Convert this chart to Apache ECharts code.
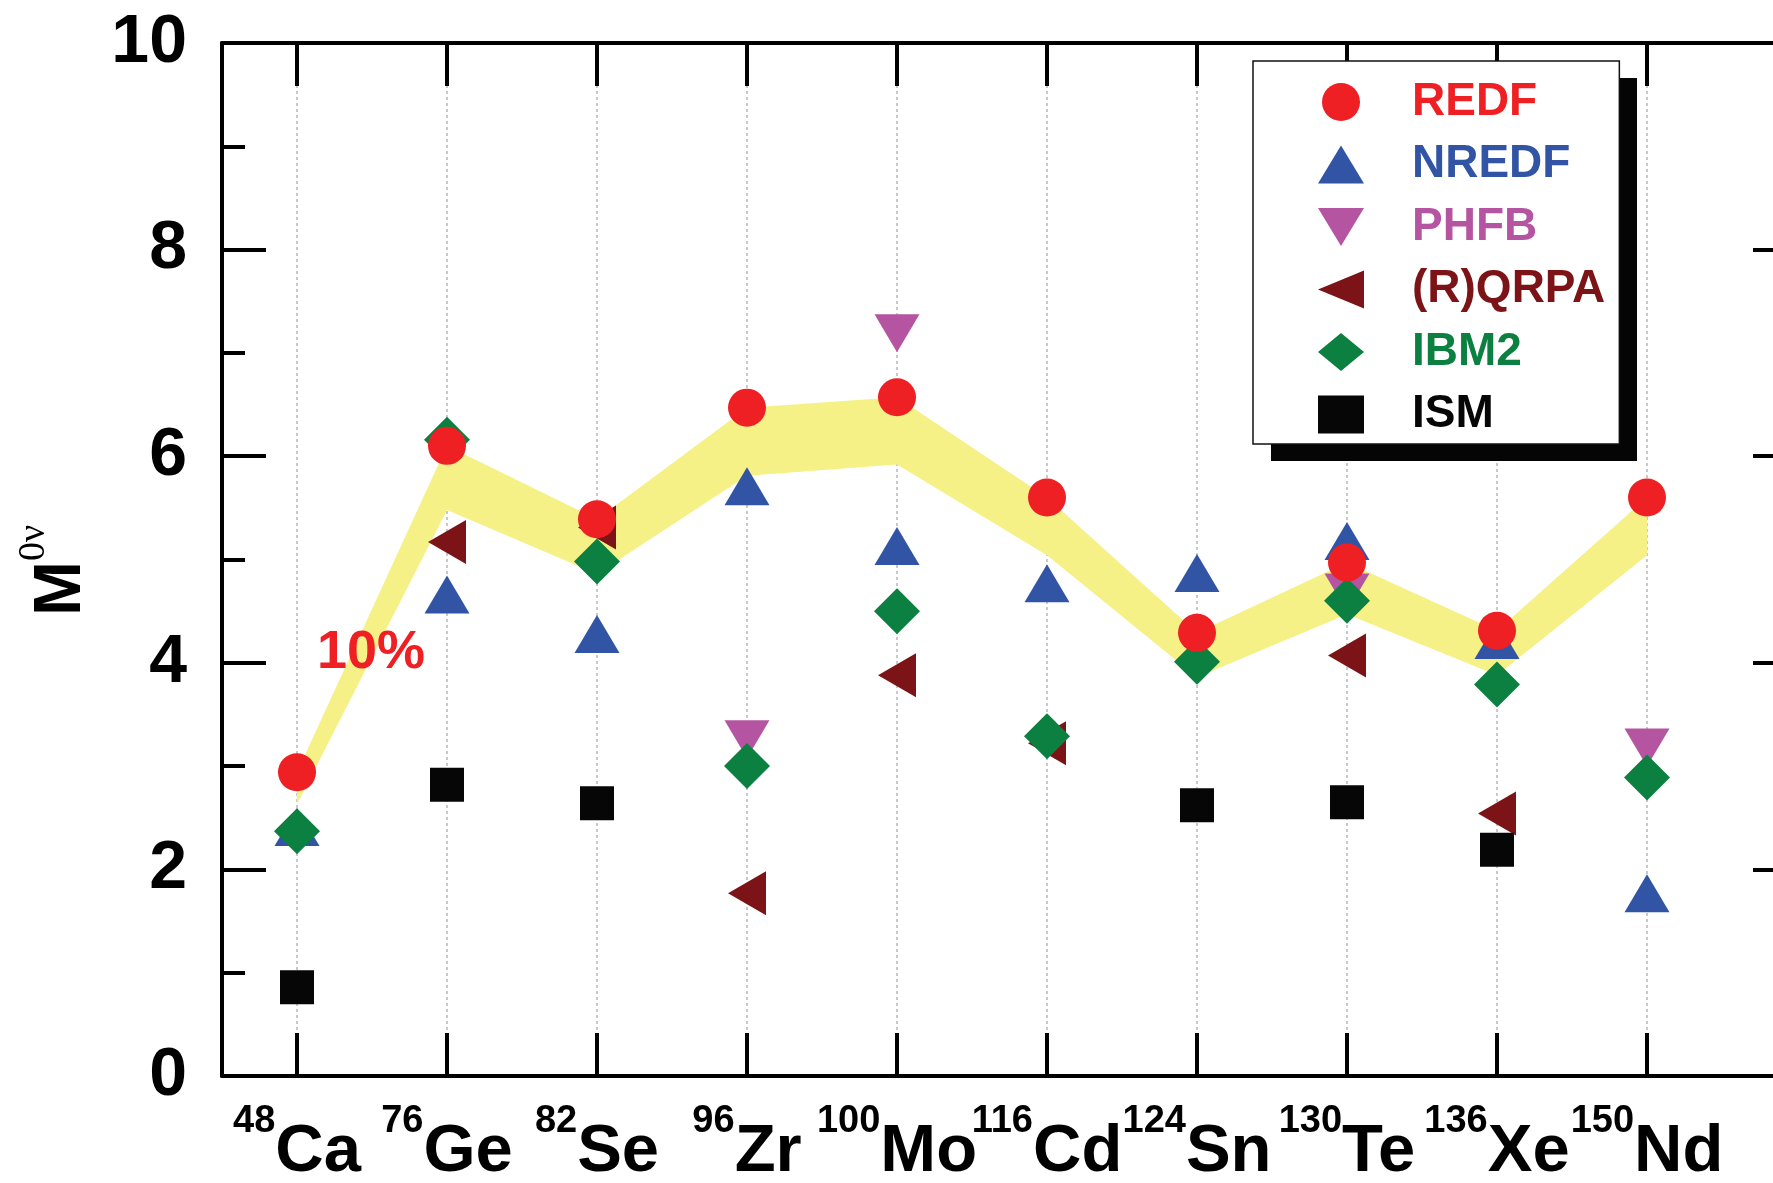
<!DOCTYPE html>
<html>
<head>
<meta charset="utf-8">
<script src="https://cdn.jsdelivr.net/npm/echarts@6/dist/echarts.min.js"></script>
<style>
  html, body { margin: 0; padding: 0; background: #fff; }
  #main { width: 1773px; height: 1183px; }
</style>
</head>
<body>
<div id="main"></div>
<script>
(function () {
    'use strict';

    // nuclei on the x axis
    var massNumbers = ['48', '76', '82', '96', '100', '116', '124', '130', '136', '150'];
    var elements = ['Ca', 'Ge', 'Se', 'Zr', 'Mo', 'Cd', 'Sn', 'Te', 'Xe', 'Nd'];
    var positions = [1, 2, 3, 4, 5, 6, 7, 8, 9, 10];

    // M0v values (null = not shown)
    var redf  = [2.94, 6.10, 5.39, 6.47, 6.57, 5.60, 4.29, 4.97, 4.31, 5.60];
    var bandLow = [2.63, 5.48, 4.86, 5.81, 5.92, 5.04, 3.86, 4.47, 3.88, 5.04];
    var nredf = [2.41, 4.66, 4.28, 5.71, 5.13, 4.77, 4.87, 5.18, 4.22, 1.77];
    var phfb  = [null, null, null, 3.26, 7.19, null, null, 4.68, null, 3.18];
    var qrpa  = [null, 5.17, 5.31, 1.77, 3.88, 3.22, null, 4.07, 2.54, null];
    var ibm2  = [2.37, 6.16, 4.98, 3.00, 4.50, 3.29, 4.01, 4.60, 3.79, 2.89];
    var ism   = [0.86, 2.82, 2.64, null, null, null, 2.62, 2.65, 2.19, null];

    var yTicks = [0, 2, 4, 6, 8, 10];

    var FONT = "'Liberation Sans', Arial, Helvetica, sans-serif";
    var colors = {
        REDF: '#EE2024',
        NREDF: '#3154A5',
        PHFB: '#B554A0',
        QRPA: '#7C1417',
        IBM2: '#0C8040',
        ISM: '#060606',
        band: '#F5F186'
    };

    function pairs(arr) {
        var out = [];
        for (var i = 0; i < arr.length; i++) {
            if (arr[i] !== null) {
                out.push([positions[i], arr[i]]);
            }
        }
        return out;
    }

    function scatter(name, values, color, symbol, size, rotate, z) {
        return {
            name: name,
            type: 'scatter',
            data: pairs(values),
            symbol: symbol,
            symbolSize: size,
            symbolRotate: rotate || 0,
            z: z,
            itemStyle: { color: color, opacity: 1 },
            emphasis: { disabled: true },
            silent: true
        };
    }

    var axisLineStyle = { color: '#000', width: 4 };

    var xBase = {
        type: 'value',
        min: 0.5,
        max: 11,
        axisLine: { show: true, onZero: false, lineStyle: axisLineStyle },
        axisTick: { show: true, inside: true, length: 43, customValues: positions, lineStyle: axisLineStyle }
    };

    var yBase = {
        type: 'value',
        min: 0,
        max: 10,
        interval: 2,
        axisLine: { show: true, onZero: false, lineStyle: axisLineStyle },
        axisTick: { show: true, inside: true, length: 44, lineStyle: axisLineStyle },
        minorTick: { show: true, splitNumber: 2, length: 23, lineStyle: axisLineStyle },
        splitLine: { show: false },
        minorSplitLine: { show: false }
    };

    // legend box (outer edge) and its drop shadow
    var legendBox = { left: 1253, top: 61, width: 366, height: 383 };

    var option = {
        animation: false,
        backgroundColor: '#fff',
        grid: {
            left: 222,
            right: -24,
            top: 43,
            bottom: 107,
            containLabel: false,
            outerBoundsMode: 'none'
        },
        xAxis: [
            Object.assign({}, xBase, {
                position: 'bottom',
                axisLabel: {
                    show: true,
                    customValues: positions,
                    hideOverlap: false,
                    showMinLabel: true,
                    showMaxLabel: true,
                    margin: 27,
                    formatter: function (val) {
                        var i = positions.indexOf(val);
                        return '{s|' + massNumbers[i] + '}{m|' + elements[i] + '}';
                    },
                    rich: {
                        s: { fontSize: 38, fontWeight: 'bold', fontFamily: FONT, color: '#000', verticalAlign: 'top', lineHeight: 40 },
                        m: { fontSize: 67, fontWeight: 'bold', fontFamily: FONT, color: '#000', verticalAlign: 'top', lineHeight: 76, padding: [16, 0, 0, 0] }
                    }
                },
                splitLine: { show: true, lineStyle: { color: '#b8b8b8', width: 1.5, type: [3, 3] } }
            }),
            Object.assign({}, xBase, {
                position: 'top',
                axisLabel: { show: false },
                splitLine: { show: false }
            })
        ],
        yAxis: [
            Object.assign({}, yBase, {
                position: 'left',
                name: '{m|M}{s|0\u03bd}',
                nameLocation: 'middle',
                nameRotate: 90,
                nameGap: 127,
                nameTextStyle: {
                    rich: {
                        m: { fontSize: 66, fontWeight: 'bold', fontFamily: FONT, color: '#000', lineHeight: 66, verticalAlign: 'bottom' },
                        s: { fontSize: 38, fontFamily: "'Liberation Serif', 'Times New Roman', serif", color: '#000', lineHeight: 40, verticalAlign: 'bottom', padding: [0, 22, 42, 0] }
                    }
                },
                axisLabel: {
                    show: true,
                    margin: 35,
                    fontSize: 68,
                    fontWeight: 'bold',
                    fontFamily: FONT,
                    color: '#000',
                    customValues: yTicks
                }
            }),
            Object.assign({}, yBase, {
                position: 'right',
                axisLabel: { show: false }
            })
        ],
        legend: {
            orient: 'vertical',
            left: legendBox.left,
            top: legendBox.top,
            itemWidth: 46,
            itemHeight: 38,
            itemGap: 16.5,
            padding: [18, 14, 6.5, 65],
            backgroundColor: '#fff',
            borderColor: '#111',
            borderWidth: 1.5,
            borderRadius: 0,
            selectedMode: false,
            symbolKeepAspect: false,
            z: 6,
            textStyle: {
                fontSize: 46,
                fontWeight: 'bold',
                fontFamily: FONT,
                padding: [0, 0, 0, 43]
            },
            data: [
                { name: 'REDF', textStyle: { color: colors.REDF } },
                { name: 'NREDF', textStyle: { color: colors.NREDF } },
                { name: 'PHFB', icon: 'path://M0,0L46,0L23,38Z', textStyle: { color: colors.PHFB } },
                { name: '(R)QRPA', icon: 'path://M42,0L42,38L8,19Z', textStyle: { color: colors.QRPA } },
                { name: 'IBM2', textStyle: { color: colors.IBM2 } },
                { name: 'ISM', textStyle: { color: colors.ISM } }
            ]
        },
        graphic: [
            {
                // solid drop shadow behind the legend
                type: 'rect',
                z: 5,
                shape: {
                    x: legendBox.left + 18,
                    y: legendBox.top + 17,
                    width: legendBox.width,
                    height: legendBox.height
                },
                style: { fill: '#050505' },
                silent: true
            },
            {
                type: 'text',
                left: 317,
                top: 626,
                z: 10,
                style: {
                    text: '10%',
                    font: 'bold 54px ' + FONT,
                    fill: colors.REDF
                }
            }
        ],
        series: [
            {
                // 10% band under REDF
                name: 'band',
                type: 'custom',
                z: 1,
                silent: true,
                data: positions.map(function (x, i) { return [x, redf[i], bandLow[i]]; }),
                encode: { x: 0, y: [1, 2] },
                renderItem: function (params, api) {
                    if (params.dataIndex !== 0) {
                        return null;
                    }
                    var upper = [];
                    var lower = [];
                    for (var i = 0; i < positions.length; i++) {
                        upper.push(api.coord([positions[i], redf[i]]));
                        lower.push(api.coord([positions[i], bandLow[i]]));
                    }
                    return {
                        type: 'polygon',
                        shape: { points: upper.concat(lower.reverse()) },
                        style: { fill: colors.band }
                    };
                }
            },
            scatter('NREDF', nredf, colors.NREDF, 'triangle', [45, 38], 0, 3),
            scatter('PHFB', phfb, colors.PHFB, 'triangle', [45, 38], 180, 3),
            scatter('(R)QRPA', qrpa, colors.QRPA, 'triangle', [44, 38], 90, 3),
            scatter('IBM2', ibm2, colors.IBM2, 'diamond', [46, 46], 0, 4),
            scatter('ISM', ism, colors.ISM, 'rect', [34, 34], 0, 4),
            scatter('REDF', redf, colors.REDF, 'circle', 38, 0, 5)
        ]
    };

    var chart = echarts.init(document.getElementById('main'));
    chart.setOption(option);
}());
</script>
</body>
</html>
